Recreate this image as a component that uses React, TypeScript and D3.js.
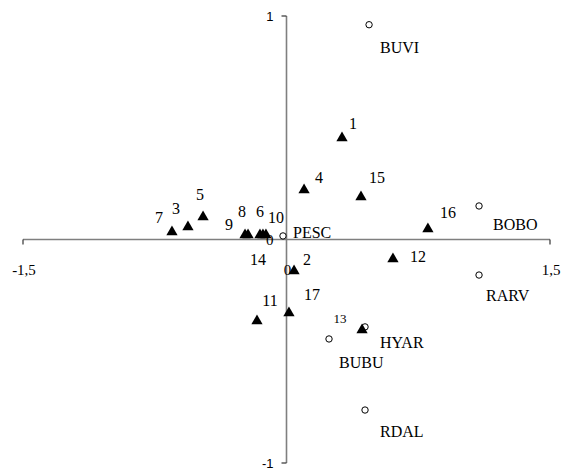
import React from "react";
import * as d3 from "d3";

const W = 561;
const H = 472;

// Sites (triangles)
const siteNames = ["1","2","3","4","5","6","7","8","9","10","11","12","13","14","15","16","17"];
const siteX = [0.316, 0.043, -0.561, 0.100, -0.475, -0.151, -0.652, -0.219, -0.236, -0.117, -0.168, 0.606, 0.430, -0.134, 0.424, 0.805, 0.014];
const siteY = [0.454, -0.141, 0.056, 0.221, 0.101, 0.020, 0.034, 0.020, 0.020, 0.020, -0.365, -0.087, -0.405, 0.020, 0.190, 0.047, -0.329];
// label offsets (px) relative to the marker: [dx to text centre, dy to baseline]
const siteLabelDx = [11, 13, -12, 15, -3, 0, -13, -6, -16, 10, 13, 25, -22, -5, 16, 20, 23];
const siteLabelDy = [-9, -6, -13, -7, -17, -18, -9, -18, -5, -12, -15, 3, -7, 30, -14, -11, -13];

// Species (open circles)
const speciesNames = ["BUVI", "BOBO", "RARV", "HYAR", "BUBU", "RDAL", "PESC"];
const speciesX = [0.470, 1.096, 1.096, 0.447, 0.242, 0.447, -0.020];
const speciesY = [0.961, 0.150, -0.159, -0.391, -0.445, -0.763, 0.016];
const speciesLabelDx = [11, 14, 7, 15, 10, 15, 10];
const speciesLabelDy = [28, 24, 26, 21, 29, 27, 2];

const xDomain: [number, number] = [-1.5, 1.5];
const yDomain: [number, number] = [-1, 1];
const xTickLabels = ["-1,5", "0", "1,5"];
const yTickLabels = ["1", "0", "-1"];

export default function App() {
  const x = d3.scaleLinear().domain(xDomain).range([23, 550]);
  const y = d3.scaleLinear().domain(yDomain).range([463, 16]);
  const x0 = x(0);
  const y0 = y(0);
  const tri = d3.symbol().type(d3.symbolTriangle).size(55)() as string;
  const axisColor = "#7f7f7f";
  const serif = "'Liberation Serif', 'Times New Roman', serif";
  const sans = "'Liberation Sans', Arial, sans-serif";

  return (
    <svg width={W} height={H} style={{ position: "absolute", left: 0, top: 0, background: "#fff" }}>
      {/* axes */}
      <line x1={x(xDomain[0])} x2={x(xDomain[1])} y1={y0} y2={y0} stroke={axisColor} strokeWidth={1.6} />
      <line x1={x0} x2={x0} y1={y(yDomain[1])} y2={y(yDomain[0])} stroke={axisColor} strokeWidth={1.6} />
      {/* end ticks */}
      <line x1={x(xDomain[0])} x2={x(xDomain[0])} y1={y0} y2={y0 + 5} stroke="#333" strokeWidth={1.2} />
      <line x1={x(xDomain[1])} x2={x(xDomain[1])} y1={y0} y2={y0 + 5} stroke="#333" strokeWidth={1.2} />
      <line x1={x0} x2={x0 - 5} y1={y(yDomain[1])} y2={y(yDomain[1])} stroke="#333" strokeWidth={1.2} />
      <line x1={x0} x2={x0 - 5} y1={y(yDomain[0])} y2={y(yDomain[0])} stroke="#333" strokeWidth={1.2} />

      {/* x tick labels */}
      {[xDomain[0], 0, xDomain[1]].map((v, i) => (
        <text key={"xt" + i} x={x(v) + 1} y={y0 + 35} textAnchor="middle" fontFamily={serif} fontSize={15}>
          {xTickLabels[i]}
        </text>
      ))}
      {/* y tick labels */}
      {[yDomain[1], 0, yDomain[0]].map((v, i) => (
        <text
          key={"yt" + i}
          x={x0 - 13}
          y={y(v) + 5}
          textAnchor="end"
          fontFamily={i === 1 ? serif : sans}
          fontSize={i === 1 ? 15 : 13}
        >
          {yTickLabels[i]}
        </text>
      ))}

      {/* species circles */}
      {speciesNames.map((n, i) => (
        <g key={"sp" + n}>
          <circle cx={x(speciesX[i])} cy={y(speciesY[i])} r={3.2} fill="#fff" stroke="#000" strokeWidth={1} />
          <text x={x(speciesX[i]) + speciesLabelDx[i]} y={y(speciesY[i]) + speciesLabelDy[i]} fontFamily={serif} fontSize={16}>
            {n}
          </text>
        </g>
      ))}

      {/* site triangles */}
      {siteNames.map((n, i) => (
        <g key={"st" + n}>
          <path d={tri} transform={`translate(${x(siteX[i])},${y(siteY[i])})`} fill="#000" />
          <text
            x={x(siteX[i]) + siteLabelDx[i]}
            y={y(siteY[i]) + siteLabelDy[i]}
            textAnchor="middle"
            fontFamily={serif}
            fontSize={n === "13" ? 13 : 16}
          >
            {n}
          </text>
        </g>
      ))}
    </svg>
  );
}
